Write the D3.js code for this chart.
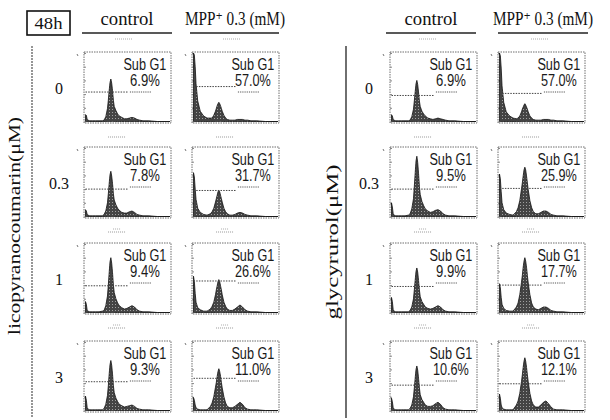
<!DOCTYPE html>
<html><head><meta charset="utf-8">
<script src="https://cdn.jsdelivr.net/npm/d3@7"></script>
<style>
html,body{margin:0;padding:0;background:#fff;}
svg{display:block;}
</style></head>
<body>
<script>
// ---------- data ----------
const doses = ["0", "0.3", "1", "3"];
const conditions = ["control", "MPP⁺ 0.3 (mM)"];
const compounds = ["licopyranocoumarin(μM)", "glycyrurol(μM)"];
const timeLabel = "48h";
const gateLabel = "Sub G1";

// DNA-content channels (fraction of histogram width, 0-100)
const channels = [0,1,2,3,5,8,12,16,20,22,24,26,27,28,29,30,31,32,33,34,36,38,40,43,46,49,52,55,58,61,64,68,75,85,100];

// cell counts (% of panel height), rows = doses
const histLicoCtrl = [
  [10,9,3,2,1,1,1,1,1,2,7,19,31,45,57,62,56,45,31,22,16,11,8,6,4,4,5,6,5,3,2,1,1,0,0],
  [10,8,3,2,1,1,1,1,1,3,8,20,33,48,61,66,59,48,33,24,17,12,9,6,5,5,7,8,6,3,2,1,1,0,0],
  [16,12,3,2,1,1,1,1,2,3,10,24,40,58,74,80,72,58,40,29,20,14,10,7,5,6,8,10,8,4,2,1,1,0,0],
  [21,15,4,2,1,1,1,1,1,3,9,22,36,53,67,73,66,53,36,26,18,13,9,7,5,6,7,8,6,3,2,1,1,0,0]
];
const histLicoMpp = [
  [100,97,80,55,30,15,8,5,5,5,9,15,19,23,26,28,26,23,19,15,9,5,3,2,2,2,3,3,3,2,2,1,1,0,0],
  [64,58,40,25,12,6,3,2,4,7,12,21,26,31,36,38,36,31,26,21,12,7,4,2,2,3,5,6,5,3,2,1,1,0,0],
  [53,45,28,15,7,4,2,2,5,9,15,26,33,39,45,48,45,39,33,26,15,9,5,3,3,5,8,11,8,4,2,1,1,0,0],
  [19,15,8,4,2,1,1,1,6,11,20,34,41,50,57,61,57,50,41,33,20,11,6,4,4,6,9,12,9,4,2,1,1,0,0]
];
const histGlyCtrl = [
  [10,8,3,2,1,1,1,1,1,2,7,18,30,43,55,60,54,43,30,22,15,11,8,5,4,3,4,5,4,3,2,1,1,0,0],
  [20,14,4,2,1,1,1,1,2,4,11,26,44,63,81,88,79,63,44,32,22,16,11,8,6,7,9,10,8,4,2,1,1,0,0],
  [22,16,4,2,1,1,1,1,1,3,8,20,33,47,60,65,59,47,33,23,16,12,8,6,5,6,8,10,8,4,2,1,1,0,0],
  [18,13,4,2,1,1,1,1,1,3,8,20,33,47,60,65,59,47,33,23,16,12,8,6,6,7,10,12,9,4,2,1,1,0,0]
];
const histGlyMpp = [
  [100,96,78,52,28,14,8,5,4,5,8,14,18,21,24,26,24,21,18,14,8,5,3,2,2,2,3,3,3,2,2,1,1,0,0],
  [62,55,36,20,10,5,3,2,7,13,23,40,49,59,68,72,68,59,49,39,23,13,7,4,4,6,8,8,6,3,2,1,1,0,0],
  [42,36,22,12,6,3,2,2,8,14,26,44,54,66,75,80,75,66,54,43,26,14,8,5,4,6,8,8,6,3,2,1,1,0,0],
  [24,18,8,4,2,1,1,1,8,14,25,42,52,63,72,77,72,63,52,42,25,14,8,5,5,8,12,14,10,5,2,1,1,0,0]
];
// Sub G1 percentages
const subG1LicoCtrl = ["6.9%", "7.8%", "9.4%", "9.3%"];
const subG1LicoMpp  = ["57.0%", "31.7%", "26.6%", "11.0%"];
const subG1GlyCtrl  = ["6.9%", "9.5%", "9.9%", "10.6%"];
const subG1GlyMpp   = ["57.0%", "25.9%", "17.7%", "12.1%"];
// marker (gate) level in counts, and gate end channel
const gateLicoCtrl = [43, 40, 39, 42];
const gateLicoMpp  = [51, 38, 46, 47];
const gateGlyCtrl  = [38, 40, 38, 37];
const gateGlyMpp   = [41, 41, 40, 39];
const gateEnd = 50;

// ---------- layout ----------
const W = 610, H = 420;
const svg = d3.select("body").append("svg").attr("width", W).attr("height", H);
const defs = svg.append("defs");
const pat = defs.append("pattern").attr("id", "stip").attr("width", 3).attr("height", 3)
  .attr("patternUnits", "userSpaceOnUse");
pat.append("rect").attr("width", 3).attr("height", 3).attr("fill", "#444");
pat.append("rect").attr("x", 1).attr("y", 1).attr("width", 1).attr("height", 1).attr("fill", "#a0a0a0");

const serif = "'Liberation Serif',Tinos,'DejaVu Serif Condensed','DejaVu Serif',serif";
const sans = "'Liberation Sans',Arial,sans-serif";

const panelW = 87, panelH = 71;
const rowTop = [52, 147, 243, 341];
const headLen = [53, 100];
const groups = [
  {label: compounds[0], lineX: 32, labelX: 15, labelY: 226, labelLen: 218, doseX: 59,
   cols: [{x: 84, hist: histLicoCtrl, sub: subG1LicoCtrl, gate: gateLicoCtrl},
          {x: 192, hist: histLicoMpp, sub: subG1LicoMpp, gate: gateLicoMpp}],
   heads: [{cx: 127, x0: 82, x1: 172}, {cx: 235, x0: 190, x1: 279}], lineColor: "#6a6a6a", dash: "2,1"},
  {label: compounds[1], lineX: 346, labelX: 333, labelY: 242, labelLen: 155, doseX: 369,
   cols: [{x: 390, hist: histGlyCtrl, sub: subG1GlyCtrl, gate: gateGlyCtrl},
          {x: 498, hist: histGlyMpp, sub: subG1GlyMpp, gate: gateGlyMpp}],
   heads: [{cx: 431, x0: 386, x1: 476}, {cx: 543, x0: 498, x1: 588}], lineColor: "#333", dash: null}
];

// time box
svg.append("rect").attr("x", 27).attr("y", 11).attr("width", 43).attr("height", 24)
  .attr("fill", "none").attr("stroke", "#111").attr("stroke-width", 1.6);
svg.append("text").attr("x", 48.5).attr("y", 29).attr("text-anchor", "middle")
  .attr("font-family", serif).attr("font-size", 17).attr("textLength", 28)
  .attr("lengthAdjust", "spacingAndGlyphs").attr("fill", "#111").text(timeLabel);

groups.forEach(g => {
  // headers
  g.heads.forEach((h, i) => {
    svg.append("text").attr("x", h.cx).attr("y", 25).attr("text-anchor", "middle")
      .attr("font-family", serif).attr("font-size", 18).attr("textLength", headLen[i])
      .attr("lengthAdjust", "spacingAndGlyphs").attr("fill", "#111").text(conditions[i]);
    svg.append("line").attr("x1", h.x0).attr("x2", h.x1).attr("y1", 33).attr("y2", 33)
      .attr("stroke", "#222").attr("stroke-width", 1.6);
    svg.append("line").attr("x1", h.cx - 12).attr("x2", h.cx + 6).attr("y1", 39).attr("y2", 39)
      .attr("stroke", "#aaa").attr("stroke-width", 1).attr("stroke-dasharray", "1,1");
  });
  // vertical divider + compound label
  svg.append("line").attr("x1", g.lineX).attr("x2", g.lineX).attr("y1", 46).attr("y2", 418)
    .attr("stroke", g.lineColor).attr("stroke-width", 1.4).attr("stroke-dasharray", g.dash);
  svg.append("text").attr("transform", `translate(${g.labelX + 5},${g.labelY}) rotate(-90)`)
    .attr("text-anchor", "middle").attr("font-family", serif).attr("font-size", 16)
    .attr("textLength", g.labelLen).attr("lengthAdjust", "spacingAndGlyphs")
    .attr("fill", "#111").text(g.label);

  doses.forEach((d, r) => {
    const top = rowTop[r];
    svg.append("text").attr("x", g.doseX).attr("y", top + panelH / 2 + 6).attr("text-anchor", "middle")
      .attr("font-family", serif).attr("font-size", 16).attr("fill", "#111").text(d);

    g.cols.forEach(c => {
      const left = c.x;
      const x = d3.scaleLinear().domain([0, 100]).range([left + 1.5, left + panelW - 1]);
      const y = d3.scaleLinear().domain([0, 100]).range([top + panelH - 1.5, top + 1]);
      const p = svg.append("g");
      // frame
      p.append("rect").attr("x", left).attr("y", top).attr("width", panelW).attr("height", panelH)
        .attr("fill", "none").attr("stroke", "#6e6e6e").attr("stroke-width", 1)
        .attr("stroke-dasharray", "1.5,1");
      // faint axes ticks
      p.append("g").attr("transform", `translate(${left},0)`)
        .call(d3.axisLeft(y).ticks(6).tickSize(-2).tickFormat(""))
        .call(a => a.select(".domain").remove())
        .call(a => a.selectAll("line").attr("stroke", "#888"));
      // histogram
      const vals = c.hist[r];
      const pts = channels.map((ch, i) => [ch, vals[i]]);
      p.append("path").datum(pts)
        .attr("d", d3.area().x(q => x(q[0])).y0(y(0)).y1(q => y(q[1])))
        .attr("fill", "url(#stip)").attr("stroke", "#111").attr("stroke-width", 0.8)
        .attr("stroke-linejoin", "round");
      // gate marker
      p.append("line").attr("x1", x(0)).attr("x2", x(gateEnd))
        .attr("y1", y(c.gate[r])).attr("y2", y(c.gate[r]))
        .attr("stroke", "#444").attr("stroke-width", 1).attr("stroke-dasharray", "1.5,1.2");
      // texts
      const tx = left + panelW * 0.7;
      p.append("text").attr("x", tx).attr("y", top + 18)
        .attr("text-anchor", "middle").attr("font-family", sans).attr("font-size", 16)
        .attr("textLength", 43).attr("lengthAdjust", "spacingAndGlyphs")
        .attr("fill", "#1a1a1a").text(gateLabel);
      const pct = c.sub[r];
      p.append("text").attr("x", tx).attr("y", top + 34)
        .attr("text-anchor", "middle").attr("font-family", sans).attr("font-size", 16)
        .attr("textLength", pct.length * 6.2 + 5).attr("lengthAdjust", "spacingAndGlyphs")
        .attr("fill", "#1a1a1a").text(pct);
      p.append("line").attr("x1", tx - 15).attr("x2", tx + 7).attr("y1", top + 40).attr("y2", top + 40)
        .attr("stroke", "#555").attr("stroke-width", 1).attr("stroke-dasharray", "1.2,1");
      // tiny corner mark
      p.append("line").attr("x1", left - 7).attr("x2", left - 6).attr("y1", top + 2).attr("y2", top + 4)
        .attr("stroke", "#777").attr("stroke-width", 1);
      // blurred x label below
      if (r < 3) {
        const bx = left + panelW * 0.38;
        p.append("line").attr("x1", bx - 9).attr("x2", bx + 9).attr("y1", top + panelH + 14).attr("y2", top + panelH + 14)
          .attr("stroke", "#999").attr("stroke-width", 1).attr("stroke-dasharray", "1,1");
        if (r > 0) p.append("line").attr("x1", bx - 4).attr("x2", bx + 4).attr("y1", top + panelH + 11).attr("y2", top + panelH + 11)
          .attr("stroke", "#aaa").attr("stroke-width", 1).attr("stroke-dasharray", "1,1");
      }
    });
  });
});
</script>
</body></html>
